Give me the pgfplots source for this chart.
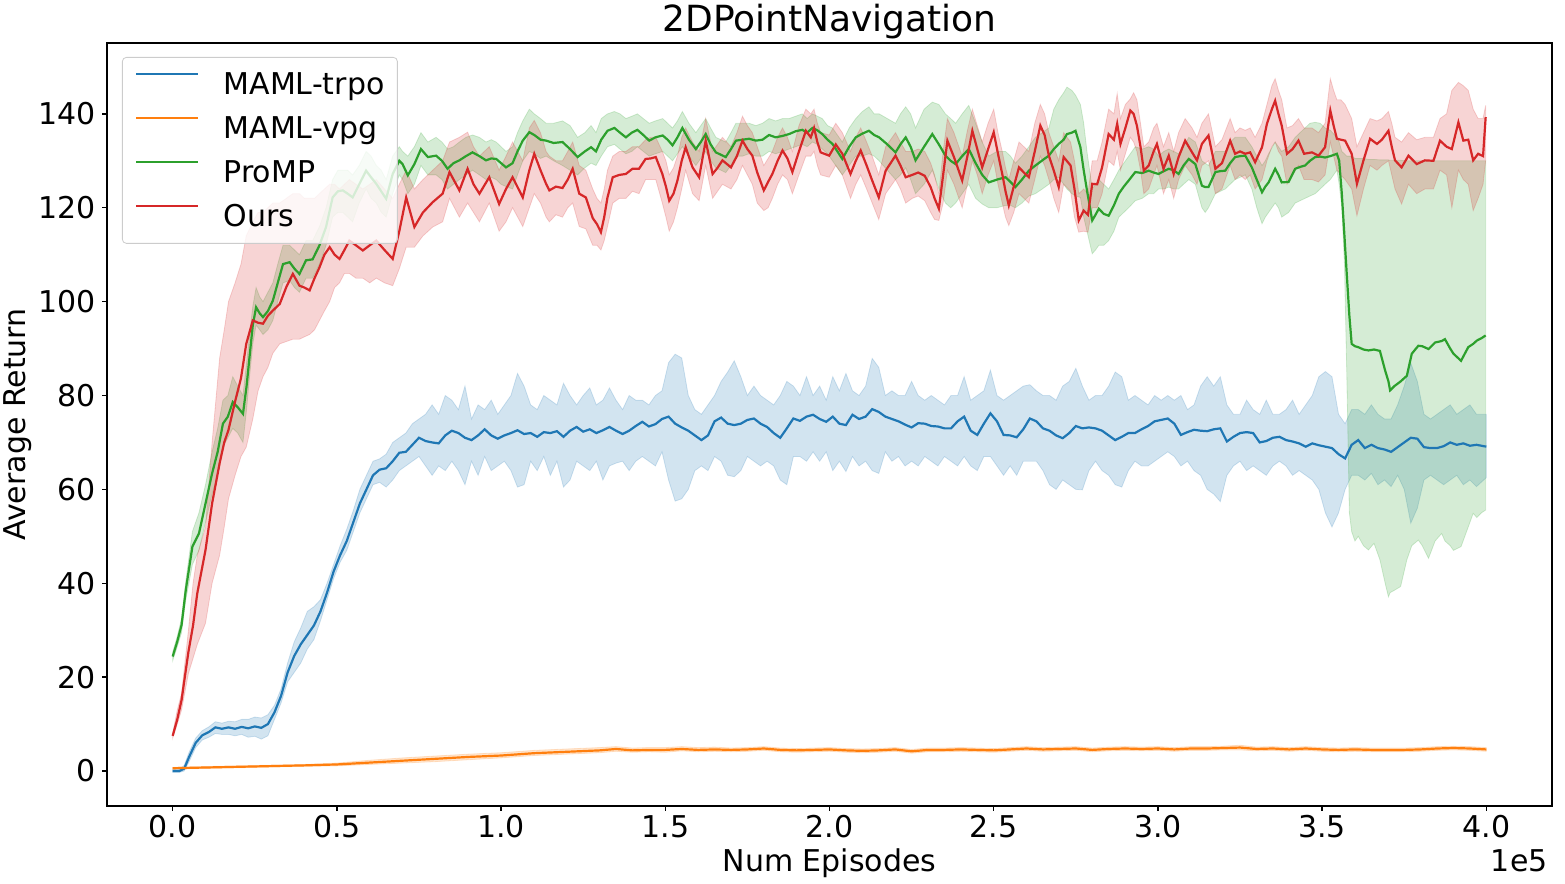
\documentclass[border=0pt]{standalone}
\usepackage{pgfplots}
\pgfplotsset{compat=1.18}
\usepackage{pgfplotstable}
\usepgfplotslibrary{fillbetween}
\usepackage{fontspec}
\setmainfont{DejaVu Sans}
\definecolor{tabblue}{HTML}{1F77B4}
\definecolor{taborange}{HTML}{FF7F0E}
\definecolor{tabgreen}{HTML}{2CA02C}
\definecolor{tabred}{HTML}{D62728}

\pgfplotstableread{
x m lo hi
0.00 0.0 -0.3 0.3
0.02 0.0 -0.3 0.4
0.035 0.5 0 1.2
0.05 3.0 2.0 4.0
0.07 6.0 5.0 7.0
0.09 7.6 6.6 8.6
0.11 8.3 7.2 9.4
0.13 9.3 8.0 10.5
0.15 9.0 7.8 10.2
0.17 9.3 7.8 10.6
0.19 9.0 7.5 10.5
0.21 9.4 7.8 11.0
0.23 9.1 7.2 11.0
0.25 9.5 7.4 11.5
0.27 9.2 6.8 11.3
0.29 10.0 7.5 12.0
0.31 12.5 11.0 14.0
0.33 16.0 14.5 17.5
0.35 21.0 19.0 23.0
0.37 24.5 21.0 27.5
0.39 27.0 23.0 30.5
0.41 29.0 26.0 34.0
0.43 31.0 28.0 35.0
0.45 34.0 32.0 36.5
0.47 38.0 36.5 40.0
0.49 42.5 41 44
0.51 46 44.5 48
0.53 49 47 51.5
0.55 53 51 55.5
0.57 57 55 60
0.59 60 58 63
0.61 63 61 66
0.63 64.2 61.5 66.5
0.65 64.5 60.5 67.5
0.67 66 62 70
0.69 67.8 64 71
0.71 68.0 65 72
0.73 69.5 66 74
0.75 71.0 67 75
0.77 70.3 65 76
0.79 70.0 63 78
0.81 69.8 65 76
0.83 71.5 64 80
0.85 72.5 66 79
0.87 72 64 77
0.89 71 61 82
0.91 70.5 66 75
0.93 71.5 63 78
0.95 72.8 67 77
0.97 71.5 64 79
0.99 70.8 65 76
1.01 71.5 66 78
1.03 72 64 80
1.05 72.6 60.5 84.7
1.07 71.8 61 82
1.09 72.0 66 78
1.11 71.2 64 77
1.13 72.2 67 80
1.15 72.0 63 79
1.17 72.4 66 78
1.19 71.2 60.5 82.6
1.21 72.5 62 80
1.23 73.3 66 78
1.25 72.3 65 80
1.27 72.8 64 81.6
1.29 72.0 66 78
1.31 72.6 62 79
1.33 73.3 65 81.6
1.35 72.5 65.6 79
1.37 71.8 66 77
1.39 72.5 64 80
1.41 73.5 66 79
1.43 74.4 67 79
1.45 73.4 66 78
1.47 73.9 65 80
1.49 75.0 68 81
1.51 75.5 62 87
1.53 74.0 57.5 88.8
1.55 73.2 58 88
1.57 72.5 60 80
1.59 71.5 64 77
1.61 70.5 65 76
1.63 71.5 64 78
1.65 74.5 67 80
1.67 75.3 66 83
1.69 74.0 63 85
1.71 73.7 62.7 87.4
1.73 74.0 64 84
1.75 74.8 67 80
1.77 75.1 66 82
1.79 74.0 65 80
1.81 73.3 66 79
1.83 72.0 65 78
1.85 71.0 62 80
1.87 73.0 61 83
1.89 75.1 67 82
1.91 74.6 67 80
1.93 75.5 66 84
1.95 75.9 68 80
1.97 75 66 82
1.99 74.4 68 79
2.01 75.5 64 84
2.03 74.0 66 81
2.05 73.7 63.8 84.7
2.07 75.9 67 81
2.09 75.0 65 80
2.11 75.5 66 82
2.13 77.1 64 87.9
2.15 76.5 63.4 86
2.17 75.5 68 80
2.19 75.0 66 81
2.21 74.5 67 80
2.23 73.8 65 80
2.25 73.2 66 83
2.27 74.1 65 80
2.29 74.0 67 79
2.31 73.5 66 80
2.33 73.4 65 79
2.35 73.0 67 78
2.37 73.0 66 80
2.39 74.5 65 80
2.41 75.5 67 84
2.43 72.5 65 79
2.45 71.6 64 80
2.47 74.0 67 81
2.49 76.2 67 85.4
2.51 74.5 65 80
2.53 71.6 63 79
2.55 71.5 65 80
2.57 71.1 63 81
2.59 72.8 66 82
2.61 75.1 66 82.3
2.63 74.5 66 81
2.65 73.0 64 80
2.67 72.5 61 80
2.69 71.5 60 79
2.71 70.9 62 82
2.73 72.0 61 83
2.75 73.5 60 85.8
2.77 73.0 59.9 82
2.79 73.2 64 79
2.81 73.0 66 80
2.83 72.5 64 80
2.85 71.5 63 82
2.87 70.5 61 85
2.89 71.2 60.5 84
2.91 72.0 64 79
2.93 72.0 66 80
2.95 72.8 65 79
2.97 73.5 65 78
2.99 74.5 66 80
3.01 74.8 67 79
3.03 75.1 68 80
3.05 74.0 67 79
3.07 71.6 65 80
3.09 72.2 66 77
3.11 72.7 64 78
3.13 72.5 63 82
3.15 72.4 60 84
3.17 72.8 59 82
3.19 73.0 57.4 84
3.21 70.2 63 78
3.23 71.2 65 76
3.25 72.0 66 76
3.27 72.2 64 79
3.29 72.0 65 77
3.31 70.0 64 76
3.33 70.3 63 79
3.35 71.0 65 76
3.37 71.2 66 76
3.39 70.5 65 77
3.41 70.2 63 79
3.43 69.8 64 76
3.45 69.1 63 78
3.47 69.8 62 80
3.49 69.4 60 84
3.51 69.1 55 85.1
3.53 68.8 52 84
3.55 67.5 55 76
3.57 66.6 60 74
3.59 69.5 63 77
3.61 70.5 63 77
3.63 68.8 62 76
3.65 69.5 63.4 78
3.67 68.8 61 76
3.69 68.5 62 75
3.71 68.0 60.6 75
3.73 69.0 63 78
3.75 70.0 60 82
3.77 71.0 52.8 86.9
3.79 70.8 56 83
3.81 69.0 62 76
3.83 68.8 63 75
3.85 68.8 62 76
3.87 69.2 61 77
3.89 70.0 62 78
3.91 69.5 63 76
3.93 69.8 61 77
3.95 69.3 62 78
3.97 69.5 60.6 76
4.00 69.1 62.5 76
}\trpo

\pgfplotstableread{
x m lo hi
0.00 0.6 0.4 0.8
0.2 0.9 0.7 1.1
0.4 1.2 1.0 1.4
0.5 1.4 1.1 1.7
0.6 1.8 1.4 2.3
0.7 2.2 1.7 2.8
0.8 2.6 2.0 3.2
0.9 3.0 2.4 3.6
1.0 3.3 2.8 3.9
1.1 3.8 3.3 4.4
1.2 4.1 3.6 4.7
1.3 4.4 3.9 5.0
1.35 4.7 4.2 5.2
1.4 4.4 4.0 4.9
1.45 4.5 4.1 5.0
1.5 4.5 4.0 5.0
1.55 4.7 4.3 5.2
1.6 4.5 4.1 5.0
1.65 4.6 4.2 5.1
1.7 4.5 4.1 4.9
1.75 4.6 4.2 5.0
1.8 4.8 4.4 5.2
1.85 4.5 4.1 4.9
1.9 4.4 4.0 4.8
1.95 4.5 4.1 4.9
2.0 4.6 4.2 5.0
2.05 4.4 4.0 4.8
2.1 4.3 3.9 4.7
2.15 4.4 4.0 4.8
2.2 4.6 4.2 5.0
2.25 4.2 3.8 4.6
2.3 4.5 4.1 4.9
2.35 4.5 4.1 4.9
2.4 4.6 4.2 5.0
2.45 4.5 4.1 4.9
2.5 4.4 4.0 4.8
2.55 4.6 4.2 5.0
2.6 4.8 4.4 5.2
2.65 4.6 4.2 5.0
2.7 4.7 4.3 5.1
2.75 4.8 4.4 5.2
2.8 4.5 4.1 4.9
2.85 4.7 4.3 5.1
2.9 4.8 4.4 5.2
2.95 4.7 4.3 5.1
3.0 4.8 4.4 5.2
3.05 4.6 4.2 5.0
3.1 4.8 4.4 5.2
3.15 4.8 4.4 5.2
3.2 4.9 4.5 5.3
3.25 5.0 4.5 5.5
3.3 4.7 4.3 5.1
3.35 4.8 4.4 5.2
3.4 4.6 4.2 5.0
3.45 4.8 4.4 5.2
3.5 4.6 4.2 5.0
3.55 4.5 4.1 4.9
3.6 4.6 4.2 5.0
3.65 4.5 4.1 4.9
3.7 4.5 4.1 4.9
3.75 4.5 4.1 4.9
3.8 4.6 4.2 5.0
3.85 4.8 4.4 5.2
3.9 4.9 4.5 5.3
3.95 4.8 4.4 5.2
4.0 4.6 4.2 5.0
}\vpg

\pgfplotstableread{
x m lo hi
0.000 24.4 23.5 25.3
0.014 27.6 26.5 28.7
0.027 31.1 29.5 32.5
0.040 38.6 36.5 40.5
0.060 47.8 44 51
0.080 50.6 47 55
0.100 57.0 53 61
0.120 63.4 59 68
0.137 68 63 73
0.153 74 69 79
0.168 75.5 71 80
0.183 78.6 73 84
0.198 77.5 72 82
0.214 76.1 70 80
0.225 82 77 87
0.234 88.2 84 93
0.244 95 91 99
0.254 98.8 95 103
0.265 97.5 94 101
0.275 96.7 93 100
0.290 98 94 102
0.305 100.2 96 104
0.320 104 100 108
0.336 108.0 104 112
0.356 108.4 104.5 112
0.371 107 103 111
0.386 105.9 102 110
0.406 108.8 105 113
0.426 109 105 113
0.447 112 108 116
0.467 115.9 112 120
0.487 122.2 118 126
0.503 123.5 119 128
0.518 123.7 119 128
0.533 123 118 128
0.548 122.2 117 127
0.568 125 121 129
0.589 127.9 124 132
0.604 126.5 122 131
0.620 125.1 121 129
0.635 123.5 119 128
0.650 121.9 118 126
0.670 127.2 123 131
0.690 130 127 133
0.700 129.3 126 132
0.716 126.9 123 131
0.736 129.3 125 133
0.756 132.5 129 136
0.777 130.8 127 134
0.802 131.1 127 135
0.820 130 126 134
0.837 128.3 124 132.5
0.855 129.5 125 133
0.873 130.1 126 134
0.893 131 127 135
0.913 131.8 128 135.5
0.934 131 127 135
0.954 130.1 126 134
0.970 130.5 126.5 134.5
0.985 130.4 126 134
1.000 129.5 125 133
1.015 128.6 124.5 132
1.035 129.5 124 133
1.050 132 127 136
1.066 134.3 130 138.5
1.086 136.1 132 141
1.101 135.5 131.5 140
1.120 134.5 130.5 139
1.137 134.3 131 138
1.160 133.8 130 138
1.187 134 129 138.5
1.210 132.5 128 137.5
1.233 130.8 127 135
1.255 132 128.5 136
1.274 132.9 129.5 137.5
1.289 132.0 129 136
1.305 134.5 131 139
1.324 136.4 133 140
1.345 137.0 133.5 140.5
1.362 136 132.5 140
1.380 135.0 131.5 139
1.398 136 132 139.5
1.415 136.6 133 140
1.433 135.5 132 139
1.451 134.3 131 138
1.470 135 131.5 138.5
1.492 135.4 132 139
1.507 134.5 131 138
1.522 133.3 130 137
1.537 135 131.5 138.5
1.552 137.0 133 140.5
1.572 134.5 131 138
1.593 132.5 129 136
1.608 134 130.5 137.5
1.623 135.7 132 139
1.638 133.5 130 137
1.654 131.8 128.5 135
1.669 131.3 128 134.5
1.684 130.8 127.5 134
1.700 132.5 129 136
1.715 134.3 131 138
1.735 134.5 131 138
1.755 134.7 131.5 138
1.776 134.3 131 137.5
1.796 134.5 131 138
1.816 135.5 132 139
1.836 135.0 131.5 138.5
1.857 135.3 132 139
1.877 135.7 132.5 139
1.897 136.3 133 139.5
1.917 136.6 133.5 140
1.932 136 133 139
1.948 137.0 134 140
1.963 136.5 133.5 139.5
1.978 135.7 132.5 139
1.994 134.5 131.5 137.5
2.009 133.6 130 137
2.024 132 128.5 135.5
2.039 130.4 127 134
2.060 133 129 137
2.080 135.0 131 139
2.100 135.8 131 140.5
2.120 136.4 131.5 141.5
2.136 135.5 131 140
2.151 135.0 130 140
2.176 133.5 128 139
2.201 131.8 126 138
2.216 133.5 127 140
2.232 135.0 128.5 141.5
2.247 133 126 140
2.262 130.1 123 137
2.288 133 125 141
2.313 135.7 128 142.5
2.333 133.5 124 142
2.353 131.1 121 140
2.369 130 120 139
2.384 129.3 121 138
2.404 131 123 140
2.424 132.5 125 141.8
2.445 129.5 122 138
2.465 127 120.8 134
2.485 125.4 120 131
2.510 126 120 132
2.536 126.5 120.5 132
2.551 125.5 120.5 131
2.566 124.4 120 129.5
2.586 126 121 131
2.607 127.9 122.5 133
2.627 129 123 135
2.648 130.1 124 136
2.668 131.1 125 137
2.683 132.5 126 141
2.698 133.6 126.5 143
2.713 134.5 125 144.5
2.723 135.7 124 145.7
2.738 136 123 145
2.749 136.4 122.5 144
2.764 132.9 122.2 142
2.774 128 118 138
2.784 123.7 115 132
2.800 117.3 110.2 124
2.810 118.5 111 125
2.820 119.8 112 126
2.835 118.7 112 125
2.850 118.3 113 124
2.866 120.5 115 126
2.881 123 118 128
2.896 124.5 119 129.5
2.911 125.8 120 131
2.931 127.6 121.5 133
2.952 127.4 122 132.5
2.972 127.9 123 133
2.987 127.5 123 132.5
3.002 127.2 124 131
3.018 127.8 124 132
3.033 128.3 124.4 132.5
3.048 128 124 132
3.063 127.2 124 131.5
3.078 129 125 133
3.094 130.4 126 135
3.114 129.3 125 134
3.134 124.7 120 130
3.144 124.4 119 129.5
3.154 124.4 120 129
3.175 127.6 123 132
3.190 127.8 123.5 132
3.205 127.9 124 132
3.220 129.5 125 134
3.235 130.8 126 135
3.251 131 126.5 135
3.266 131.1 127 135
3.286 128.6 124 133
3.301 126 120 131
3.317 123.3 116.6 129
3.327 124.5 118 130
3.337 125.4 119 131.5
3.357 128.3 121 134
3.367 127 120 133
3.377 125.4 118 132
3.398 125.5 119 133
3.418 128.3 121 135
3.433 128.7 121.5 136
3.448 129 122 137
3.463 130 122.5 138
3.479 130.8 123 138.2
3.494 130.9 124 138
3.509 130.7 125 137
3.525 131 126 136.5
3.545 131.5 128 135
3.552 130 125 134
3.560 123 120 132
3.568 114 108 131.5
3.575 105.9 85 131
3.583 97 55 131
3.590 91 51 131
3.600 90.5 49 130.5
3.610 90.3 50 130.5
3.626 89.8 48 130.5
3.641 89.6 47.1 130.3
3.658 89.8 48.5 130.3
3.676 89.5 45 130.2
3.692 85.3 40 130.2
3.702 83 37.1 130.2
3.707 81.1 38 130.1
3.720 82 38.5 130.1
3.739 83 39.3 130.1
3.758 84.2 45 130
3.773 88.9 48 130
3.793 90.6 49.2 130
3.805 90.5 48 130
3.824 89.9 45.3 130
3.844 91.3 49 130
3.864 91.6 50.6 130
3.874 92 49 130
3.890 90 48 130
3.900 88.9 47 130
3.923 87.4 47.8 130
3.945 90.3 52 130
3.960 91 54.9 130
3.971 91.7 54 130
3.985 92.2 55 130
3.998 92.8 55.6 130
}\promp

\pgfplotstableread{
x m lo hi
0.000 7.5 7.0 8.0
0.014 11 10 13
0.027 15.1 13 16.5
0.048 25.4 20.8 30
0.062 31 24 40
0.075 37.9 27 46
0.100 47.1 31.5 52
0.120 57 40 70
0.143 65.6 46 88
0.157 70 52 94
0.170 72.7 58 100
0.190 78.7 63 104
0.208 83.7 67 108
0.224 91 69 114
0.244 96 75 117
0.260 95.5 81 119
0.275 95.3 84 119
0.290 97 86 120
0.305 98.1 89 121
0.326 99.5 91 121
0.346 103.1 91.5 122
0.366 105.9 92 123
0.386 103.4 92 123
0.401 103 92.5 122
0.417 102.4 93 122
0.432 105 94 122
0.447 107.3 96 123
0.462 110 98 124
0.478 111.6 100 125
0.493 110 103 125
0.508 109.1 104 124
0.523 111 106 125
0.538 113 106 126
0.558 112 105 125
0.579 110.9 105 124
0.600 112 104 125
0.620 113 105 126
0.645 111 104 124
0.670 109.1 103.4 122
0.690 115 107 125
0.711 122.2 111.6 128
0.736 115.9 111.6 124
0.762 119 114 126
0.792 121.2 115.9 128
0.822 123 117 130
0.843 127.6 122 134
0.873 123.7 118 135
0.898 128.3 121 136.1
0.916 125 119 133
0.934 123 117 131
0.964 126.5 121 133
0.994 120.8 115 128
1.015 124 117 131
1.035 126.5 120 134
1.066 122.2 116 130
1.086 128 120 137
1.101 131.5 123 138.6
1.120 128 121 136
1.137 125.1 118 132
1.147 123.7 117 131
1.167 124.5 118.5 130
1.187 124.2 118 130
1.203 126 120 132
1.218 128.3 121 134
1.238 123 116 129
1.258 122.2 115.5 128
1.279 117.8 112 124
1.292 116.5 112 122
1.304 114.8 111 121
1.314 118 113 124
1.324 122.2 116 128
1.340 126.5 121 131
1.360 127 122 132
1.380 127.2 122 132
1.400 128.3 123.5 133
1.420 128.3 123 133
1.440 130.4 126 134.5
1.455 130.5 126 135
1.471 130.8 126 135
1.491 127.2 121 132
1.502 124.5 118 130
1.512 121.5 115 127
1.525 123 117 128.5
1.537 125.8 120 131
1.550 130 124 135
1.562 132.9 128 137
1.583 128.6 123 134
1.603 126.5 121.5 132
1.623 134.3 129 139
1.644 127.2 122 132
1.659 128.5 123.5 133.5
1.674 130.1 125 135
1.700 128.6 124 133
1.718 131 126 136
1.735 134.3 129 139.5
1.750 132.5 127 137.5
1.765 131.1 125 136
1.780 127.5 121 133
1.800 123.7 119.4 129
1.813 125.5 120 130.5
1.826 127.2 122 132
1.842 130 125 135
1.857 132.2 127 137
1.872 130.5 126 135
1.887 127.6 123 132
1.907 132 127 137.5
1.928 136.4 131 141
1.943 135 131 140
1.953 137.0 132 141
1.963 134 129 138
1.973 131.8 127 136
1.999 131.1 126.5 135.5
2.019 133.5 129 138
2.039 131.5 127 136
2.064 127.2 122 132
2.080 130 125 135
2.095 132.2 127 137
2.113 129 124 134
2.130 125.8 121 131
2.150 122.2 117.5 127
2.171 127.9 123 133
2.186 129.5 124.5 134.5
2.201 131.1 126 136
2.216 129 124 134
2.232 126.5 121 132
2.252 127 122 132
2.270 127.5 122.5 132.5
2.290 126.8 121.5 132
2.308 124.4 119 129.5
2.320 122 117.5 127
2.333 119.8 117.3 123
2.346 127 121 132
2.359 134.3 128 139
2.379 130.8 125 136
2.404 125.8 120 131
2.420 131 125 136.5
2.435 136.4 130 141
2.450 132.5 127 137.5
2.465 128.6 123 134
2.483 132.5 127 138
2.500 136.1 130 141
2.513 131.5 125 136
2.526 127.2 121 132
2.536 123.5 118 128.5
2.546 120.5 116.2 126
2.561 124.5 119 130
2.577 128.6 123 134
2.592 127.5 122 133
2.607 126.5 121 132
2.625 132 126 138
2.642 137.5 131 142
2.655 135.5 129 140
2.668 131.1 126 136
2.683 127.9 122 133
2.698 124.4 119 130
2.713 130.8 125 136
2.734 129 123.5 134
2.746 124 118 130
2.759 117.3 114.8 123
2.774 119.4 115 124
2.787 118.5 114.8 123
2.800 125.1 120 130
2.815 125 120 130
2.830 128.6 123 134
2.850 135.7 130 141
2.866 134.5 129 140
2.876 137.9 132 144.3
2.886 133.6 128 139
2.901 137 131.5 142
2.916 140.7 135 143.2
2.926 140 134 144.5
2.936 137.5 132 143
2.947 133 128 138
2.957 127.9 123 133
2.972 129 124 134
2.987 132 127 137
2.997 133.6 129 138
3.017 128.3 123 133
3.033 131.1 126 136
3.048 127.2 122 132
3.063 130.8 126 136
3.083 134.3 129 139
3.104 131.8 127 137
3.119 130.1 125 135
3.134 133.6 129 138
3.154 135.4 130 140
3.175 128.3 123 133
3.195 129.5 124 134.5
3.220 134.3 129 139
3.235 131.5 126 136
3.250 132 127 137
3.266 131.5 126 136.5
3.281 131.8 127 137
3.296 129.7 124 135
3.317 132.9 126 138
3.332 137.9 130 142
3.347 141 133 146
3.357 142.8 134 147.5
3.367 140 132 145
3.377 137.5 131 143
3.393 131.5 125 137
3.410 132.5 127 137.5
3.428 134.3 129 139
3.445 131.5 126 137
3.469 131.8 126 137
3.489 131.1 125.5 136
3.509 132.9 127 138
3.525 140.7 134 147.5
3.535 137.5 131 145
3.545 134.7 128 143
3.557 134.5 127 143
3.570 134.3 126 142
3.590 131.5 124 139
3.606 125.1 118.3 133
3.626 130.1 124 136
3.646 134.7 129 139
3.667 133.6 128 138.5
3.682 134.5 129 139
3.702 136.4 130 140.5
3.712 133 127 138
3.722 130.1 124 135
3.742 128.6 120.8 134
3.763 131.1 125 136
3.788 129.3 123 134.5
3.813 130.1 124 135
3.839 130 124 135
3.859 134.3 128 139
3.879 133 127 140
3.895 132.5 120 145
3.915 138.2 128 146.7
3.930 134.3 126 146
3.945 134.5 125 145
3.960 130.1 119.4 141
3.975 131.5 122 139
3.990 131 125 139
3.998 139.3 130 141.8
}\ours

\begin{document}
\begin{tikzpicture}
\begin{axis}[
  at={(0pt,0pt)}, anchor=south west,
  width=722.5pt, height=381.5pt, scale only axis,
  xmin=-0.2, xmax=4.2, ymin=-7.45, ymax=155.1,
  xtick={0,0.5,1,1.5,2,2.5,3,3.5,4},
  ytick={0,20,40,60,80,100,120,140},
  tick align=outside, tick pos=left,
  major tick length=2.4pt,
  every tick/.style={black, line width=0.65pt},
  axis line style={line width=0.65pt},
  tick label style={font=\fontsize{15}{18}\selectfont},
  xticklabel style={anchor=base, inner sep=0pt, yshift=-13.6pt,
    /pgf/number format/fixed, /pgf/number format/fixed zerofill,
    /pgf/number format/precision=1, /pgf/number format/assume math mode=true},
  yticklabel style={anchor=east, inner sep=0pt, xshift=-3.1pt,
    /pgf/number format/fixed, /pgf/number format/precision=0,
    /pgf/number format/assume math mode=true},
  scaled x ticks=false, scaled y ticks=false,
  xlabel={Num Episodes},
  xlabel style={font=\fontsize{15}{18}\selectfont, at={([yshift=-33pt]axis description cs:0.5,0)}, anchor=base, inner sep=0pt},
  ylabel={Average Return},
  ylabel style={font=\fontsize{15}{18}\selectfont, at={([xshift=-40.5pt]axis description cs:0,0.5)}, anchor=base, inner sep=0pt},
  legend style={at={([xshift=7.5pt,yshift=-7pt]axis description cs:0,1)}, anchor=north west,
    draw=black!20, rounded corners=2pt, fill=white, fill opacity=0.8, text opacity=1, draw opacity=1,
    inner xsep=6.5pt, inner ysep=6pt, font=\fontsize{15}{18}\selectfont,
    row sep=7pt, column sep=12pt,
    nodes={inner sep=0pt, text height=12.5pt, text depth=2.5pt}},
  legend cell align=left,
  legend image code/.code={\draw[#1, line width=1.1pt] (0pt,5.3pt) -- (31pt,5.3pt);},
]
% MAML-trpo
\addplot[name path=trpohi, draw=none, forget plot] table[x=x,y=hi]{\trpo};
\addplot[name path=trpolo, draw=none, forget plot] table[x=x,y=lo]{\trpo};
\addplot[fill=tabblue, draw=tabblue, line width=0.4pt, fill opacity=0.2, draw opacity=0.2, forget plot] fill between[of=trpohi and trpolo];
\addplot[tabblue, line width=1.1pt] table[x=x,y=m]{\trpo};
\addlegendentry{MAML-trpo}
% MAML-vpg
\addplot[name path=vpghi, draw=none, forget plot] table[x=x,y=hi]{\vpg};
\addplot[name path=vpglo, draw=none, forget plot] table[x=x,y=lo]{\vpg};
\addplot[fill=taborange, draw=taborange, line width=0.4pt, fill opacity=0.2, draw opacity=0.2, forget plot] fill between[of=vpghi and vpglo];
\addplot[taborange, line width=1.1pt] table[x=x,y=m]{\vpg};
\addlegendentry{MAML-vpg}
% ProMP
\addplot[name path=promphi, draw=none, forget plot] table[x=x,y=hi]{\promp};
\addplot[name path=promplo, draw=none, forget plot] table[x=x,y=lo]{\promp};
\addplot[fill=tabgreen, draw=tabgreen, line width=0.4pt, fill opacity=0.2, draw opacity=0.2, forget plot] fill between[of=promphi and promplo];
\addplot[tabgreen, line width=1.1pt] table[x=x,y=m]{\promp};
\addlegendentry{ProMP}
% Ours
\addplot[name path=ourshi, draw=none, forget plot] table[x=x,y=hi]{\ours};
\addplot[name path=ourslo, draw=none, forget plot] table[x=x,y=lo]{\ours};
\addplot[fill=tabred, draw=tabred, line width=0.4pt, fill opacity=0.2, draw opacity=0.2, forget plot] fill between[of=ourshi and ourslo];
\addplot[tabred, line width=1.1pt] table[x=x,y=m]{\ours};
\addlegendentry{Ours}
\end{axis}
\node[anchor=base, inner sep=0pt, font=\fontsize{18}{22}\selectfont] at (361.25pt,387pt) {2DPointNavigation};
\node[anchor=base east, inner sep=0pt, font=\fontsize{15}{18}\selectfont] at (720.5pt,-33pt) {1e5};
\pgfresetboundingbox
\path[use as bounding box] (-53.5pt,-39pt) rectangle (729pt,403pt);
\end{tikzpicture}
\end{document}
